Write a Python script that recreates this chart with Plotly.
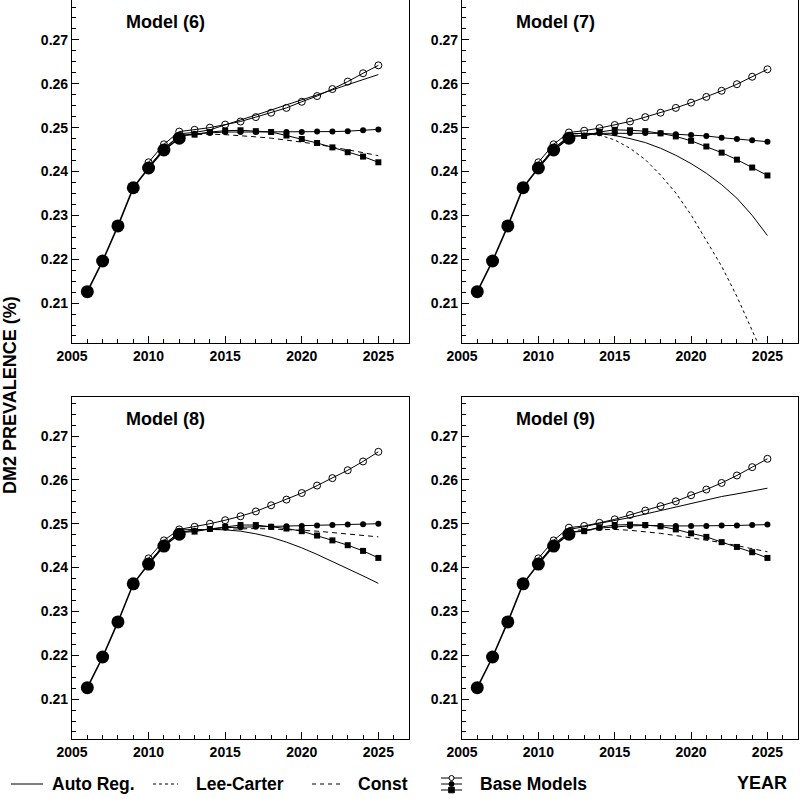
import plotly.graph_objects as go

# observed prevalence
years_obs = [2006, 2007, 2008, 2009, 2010, 2011, 2012]
observed = [0.2126, 0.2196, 0.2276, 0.2363, 0.2408, 0.2449, 0.2476]

# base models (open circle / filled circle / square), 2010-2025
years_base = list(range(2010, 2026))
# forecast curves, 2012-2025
years_fc = list(range(2012, 2026))

m6_open = [0.2421, 0.2462, 0.2491, 0.2495, 0.2500, 0.2507, 0.2514, 0.2524, 0.2534, 0.2545,
           0.2559, 0.2572, 0.2588, 0.2605, 0.2624, 0.2642]
m6_dot = [0.2410, 0.2452, 0.2482, 0.2486, 0.2488, 0.2490, 0.2490, 0.2490, 0.2490, 0.2490,
          0.2490, 0.2491, 0.2491, 0.2492, 0.2494, 0.2496]
m6_sq = [0.2410, 0.2452, 0.2481, 0.2484, 0.2490, 0.2493, 0.2494, 0.2492, 0.2490, 0.2482,
         0.2474, 0.2465, 0.2455, 0.2444, 0.2434, 0.2421]
m6_ar = [0.2486, 0.2489, 0.2495, 0.2506, 0.2517, 0.2529, 0.2540, 0.2552, 0.2563, 0.2575,
         0.2586, 0.2598, 0.2609, 0.2621]
m6_const = [0.2484, 0.2485, 0.2485, 0.2484, 0.2482, 0.2479, 0.2476, 0.2472, 0.2467, 0.2462,
            0.2456, 0.2450, 0.2443, 0.2436]

m7_open = [0.2421, 0.2462, 0.2489, 0.2493, 0.2499, 0.2506, 0.2514, 0.2524, 0.2534, 0.2545,
           0.2557, 0.2570, 0.2584, 0.2599, 0.2616, 0.2633]
m7_dot = [0.2410, 0.2452, 0.2481, 0.2482, 0.2487, 0.2487, 0.2488, 0.2488, 0.2487, 0.2485,
          0.2483, 0.2481, 0.2477, 0.2474, 0.2471, 0.2468]
m7_sq = [0.2410, 0.2452, 0.2480, 0.2481, 0.2490, 0.2495, 0.2494, 0.2492, 0.2487, 0.2480,
         0.2470, 0.2457, 0.2443, 0.2427, 0.2409, 0.2391]
m7_ar = [0.2486, 0.2487, 0.2486, 0.2482, 0.2475, 0.2466, 0.2453, 0.2437, 0.2418, 0.2396,
         0.2370, 0.2339, 0.2300, 0.2254]
m7_lc = [0.2486, 0.2486, 0.2483, 0.2472, 0.2453, 0.2427, 0.2392, 0.2351, 0.2301, 0.2244,
         0.2184, 0.2115, 0.2036, 0.1960]

m8_open = [0.2421, 0.2462, 0.2487, 0.2493, 0.2500, 0.2508, 0.2517, 0.2528, 0.2542, 0.2555,
           0.2570, 0.2587, 0.2604, 0.2622, 0.2642, 0.2664]
m8_dot = [0.2410, 0.2452, 0.2481, 0.2484, 0.2488, 0.2491, 0.2492, 0.2493, 0.2493, 0.2494,
          0.2495, 0.2496, 0.2497, 0.2498, 0.2499, 0.2500]
m8_sq = [0.2410, 0.2452, 0.2480, 0.2482, 0.2488, 0.2493, 0.2497, 0.2497, 0.2493, 0.2489,
         0.2483, 0.2473, 0.2462, 0.2451, 0.2438, 0.2422]
m8_ar = [0.2486, 0.2487, 0.2487, 0.2486, 0.2483, 0.2477, 0.2469, 0.2458, 0.2445, 0.2430,
         0.2414, 0.2398, 0.2381, 0.2364]
m8_const = [0.2485, 0.2486, 0.2487, 0.2488, 0.2489, 0.2489, 0.2488, 0.2487, 0.2485, 0.2483,
            0.2480, 0.2477, 0.2474, 0.2470]

m9_open = [0.2421, 0.2462, 0.2491, 0.2495, 0.2502, 0.2510, 0.2520, 0.2530, 0.2540, 0.2551,
           0.2565, 0.2578, 0.2593, 0.2610, 0.2629, 0.2648]
m9_dot = [0.2410, 0.2452, 0.2481, 0.2484, 0.2490, 0.2493, 0.2495, 0.2496, 0.2495, 0.2495,
          0.2495, 0.2495, 0.2496, 0.2496, 0.2497, 0.2498]
m9_sq = [0.2410, 0.2452, 0.2480, 0.2483, 0.2492, 0.2497, 0.2498, 0.2497, 0.2494, 0.2487,
         0.2478, 0.2470, 0.2458, 0.2447, 0.2435, 0.2422]
m9_ar = [0.2487, 0.2493, 0.2501, 0.2507, 0.2514, 0.2522, 0.2530, 0.2539, 0.2546, 0.2554,
         0.2562, 0.2568, 0.2575, 0.2581]
m9_const = [0.2485, 0.2486, 0.2487, 0.2487, 0.2485, 0.2482, 0.2478, 0.2473, 0.2468, 0.2463,
            0.2457, 0.2450, 0.2443, 0.2436]

panel_titles = ["Model (6)", "Model (7)", "Model (8)", "Model (9)"]

FONT = "Liberation Sans, Arial, sans-serif"
K = "black"
DASH = "5px,4px"

fig = go.Figure()


def add_panel(n, opn, dot, sq, ar=None, lc=None, const=None):
    xa, ya = ("x", "y") if n == 1 else ("x%d" % n, "y%d" % n)
    kw = dict(xaxis=xa, yaxis=ya, showlegend=False, hoverinfo="x+y")
    if const is not None:
        fig.add_trace(go.Scatter(x=years_fc, y=const, mode="lines",
                                 line=dict(color=K, width=1, dash=DASH), **kw))
    if lc is not None:
        fig.add_trace(go.Scatter(x=years_fc, y=lc, mode="lines",
                                 line=dict(color=K, width=1, dash="dot"), **kw))
    if ar is not None:
        fig.add_trace(go.Scatter(x=years_fc, y=ar, mode="lines",
                                 line=dict(color=K, width=1), **kw))
    fig.add_trace(go.Scatter(x=years_base, y=sq, mode="lines+markers",
                             line=dict(color=K, width=1),
                             marker=dict(symbol="square", size=6, color=K), **kw))
    fig.add_trace(go.Scatter(x=years_base, y=dot, mode="lines+markers",
                             line=dict(color=K, width=1),
                             marker=dict(symbol="circle", size=6, color=K), **kw))
    fig.add_trace(go.Scatter(x=years_base, y=opn, mode="lines+markers",
                             line=dict(color=K, width=1),
                             marker=dict(symbol="circle-open", size=7, color=K,
                                         line=dict(width=1)), **kw))
    fig.add_trace(go.Scatter(x=years_obs, y=observed, mode="lines+markers",
                             line=dict(color=K, width=1.6),
                             marker=dict(symbol="circle", size=13, color=K), **kw))


add_panel(1, m6_open, m6_dot, m6_sq, ar=m6_ar, const=m6_const)
add_panel(2, m7_open, m7_dot, m7_sq, ar=m7_ar, lc=m7_lc)
add_panel(3, m8_open, m8_dot, m8_sq, ar=m8_ar, const=m8_const)
add_panel(4, m9_open, m9_dot, m9_sq, ar=m9_ar, const=m9_const)

W, H = 800, 799
xdoms = [[72 / W, 409 / W], [462 / W, 798 / W]]
ydoms = [[1 - 343 / H, 1.0], [1 - 739 / H, 1 - 397 / H]]
yranges = [[0.2009, 0.2791], [0.2009, 0.2789]]

tickfont = dict(family=FONT, size=14, color=K, weight="bold")
axis_common = dict(showline=True, linecolor=K, linewidth=1.2, mirror=True,
                   showgrid=False, zeroline=False, ticks="inside", tickcolor=K,
                   tickwidth=1, tickfont=tickfont, automargin=False)

layout = {}
for n in range(1, 5):
    r, c = (n - 1) // 2, (n - 1) % 2
    sx = "" if n == 1 else str(n)
    layout["xaxis" + sx] = dict(axis_common, domain=xdoms[c], anchor="y" + sx,
                                range=[2005, 2027], tick0=2005, dtick=5, ticklen=7,
                                tickformat="d",
                                minor=dict(dtick=1, ticklen=4, ticks="inside", tickcolor=K))
    layout["yaxis" + sx] = dict(axis_common, domain=ydoms[r], anchor="x" + sx,
                                range=yranges[r], tick0=0.21, dtick=0.01, ticklen=7,
                                tickformat=".2f",
                                minor=dict(dtick=0.0025, ticklen=4, ticks="inside", tickcolor=K))

annotations = []
for n, t in enumerate(panel_titles, start=1):
    sx = "" if n == 1 else str(n)
    annotations.append(dict(text=t, xref="x%s domain" % sx, yref="y%s domain" % sx,
                            x=0.155, y=0.936, xanchor="left", yanchor="middle",
                            showarrow=False,
                            font=dict(family=FONT, size=18, color=K, weight="bold")))

annotations.append(dict(text="DM2 PREVALENCE (%)", xref="paper", yref="paper",
                        x=10 / W, y=1 - 395 / H, textangle=-90, showarrow=False,
                        xanchor="center", yanchor="middle",
                        font=dict(family=FONT, size=18, color=K, weight="bold")))
annotations.append(dict(text="YEAR", xref="paper", yref="paper",
                        x=789 / W, y=1 - 783 / H, xanchor="right", yanchor="middle",
                        showarrow=False,
                        font=dict(family=FONT, size=18, color=K, weight="bold")))

# legend row
leg_y = 1 - 784 / H
leg_font = dict(family=FONT, size=17.5, color=K, weight="bold")
legend_items = [("Auto Reg.", "solid", 11, 43, 50),
                ("Lee-Carter", "dot", 153, 178, 194),
                ("Const", "4px,4px", 312, 343, 356)]
shapes = []
for label, dash, x0, x1, tx in legend_items:
    shapes.append(dict(type="line", xref="paper", yref="paper",
                       x0=x0 / W, x1=x1 / W, y0=leg_y, y1=leg_y,
                       line=dict(color=K, width=1, dash=dash)))
    annotations.append(dict(text=label, xref="paper", yref="paper", x=tx / W, y=leg_y,
                            xanchor="left", yanchor="middle", showarrow=False,
                            font=leg_font))

# base-models glyph: three stacked short lines with markers
bx0, bx1 = 441, 462
bxc = (bx0 + bx1) / 2
for i, dy in enumerate([-6, 0, 6]):
    yy = 1 - (784 + dy) / H
    shapes.append(dict(type="line", xref="paper", yref="paper",
                       x0=bx0 / W, x1=bx1 / W, y0=yy, y1=yy,
                       line=dict(color=K, width=1)))
    r = 2.5 if i < 2 else 2.8
    if i < 2:
        shapes.append(dict(type="circle", xref="paper", yref="paper",
                           x0=(bxc - r) / W, x1=(bxc + r) / W,
                           y0=yy - r / H, y1=yy + r / H,
                           line=dict(color=K, width=1),
                           fillcolor="white" if i == 0 else K))
    else:
        shapes.append(dict(type="rect", xref="paper", yref="paper",
                           x0=(bxc - r) / W, x1=(bxc + r) / W,
                           y0=yy - r / H, y1=yy + r / H,
                           line=dict(color=K, width=1), fillcolor=K))
annotations.append(dict(text="Base Models", xref="paper", yref="paper", x=478 / W, y=leg_y,
                        xanchor="left", yanchor="middle", showarrow=False, font=leg_font))

fig.update_layout(width=W, height=H, margin=dict(l=0, r=0, t=0, b=0),
                  paper_bgcolor="white", plot_bgcolor="white",
                  font=dict(family=FONT, color=K),
                  annotations=annotations, shapes=shapes, **layout)

# drop the browser's default body margin so the figure sits at the page corner
fig.write_html("out.html", config={"displayModeBar": False},
               post_script="document.body.style.margin='0';")
